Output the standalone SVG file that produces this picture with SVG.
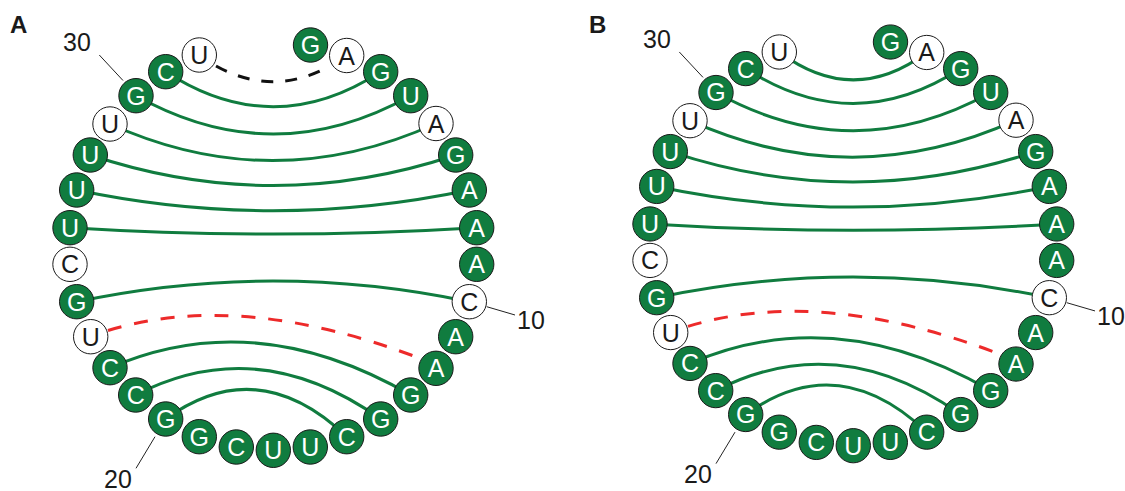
<svg xmlns="http://www.w3.org/2000/svg" width="1125" height="491" viewBox="0 0 1125 491">
<style>
  text{font-family:"Liberation Sans",Arial,sans-serif}
  .nd text{font-size:25px;text-anchor:middle}
  .g circle{fill:#107c3f;stroke:#1a1a1a;stroke-width:1}
  .g text{fill:#ffffff}
  .w circle{fill:#ffffff;stroke:#1a1a1a;stroke-width:1}
  .w text{fill:#1a1a1a}
  .pair{fill:none;stroke:#107c3f;stroke-width:3}
  .mis{fill:none;stroke:#ed2a2a;stroke-width:3;stroke-dasharray:14 13}
  .gap{fill:none;stroke:#111111;stroke-width:3;stroke-dasharray:12 12}
  .lead{stroke:#222222;stroke-width:1}
  .num{font-size:25px;fill:#1a1a1a}
  .panel{font-size:24px;font-weight:bold;fill:#1a1a1a}
</style>

<text class="panel" x="10" y="33">A</text>
<text class="panel" x="589" y="33">B</text>

<!-- Panel A -->
<g id="panel-a">
  <g id="a-connectors">
    <path class="gap" d="M216,66 Q273,97.4 330,66"/>
    <path class="pair" d="M165.7,71.7 Q273.2,141.7 380.7,71.7"/>
    <path class="pair" d="M136,95.7 Q273.3,172.3 410.7,95.7"/>
    <path class="pair" d="M110,124 Q273,197.4 436,123.5"/>
    <path class="pair" d="M90.3,155 Q273,216 455.7,155"/>
    <path class="pair" d="M76.7,190 Q273,231.4 469.3,190"/>
    <path class="pair" d="M70,227.7 Q273.3,240.3 476.7,227.7"/>
    <path class="pair" d="M76.7,301.7 Q273,260.3 469.3,301.7"/>
    <path class="mis" d="M108,330.5 Q240,290 419,358"/>
    <path class="pair" d="M110,367.7 Q255,305 410.7,395"/>
    <path class="pair" d="M135.7,395 Q258,332 380.7,419"/>
    <path class="pair" d="M165.7,419 Q258,352 346.7,436.7"/>
    <line class="lead" x1="99.3" y1="55" x2="123" y2="80.5"/>
    <line class="lead" x1="155" y1="436.7" x2="136" y2="468.3"/>
    <line class="lead" x1="486.7" y1="306.7" x2="515" y2="315"/>
  </g>
  <text class="num" x="63" y="51">30</text>
  <text class="num" x="104" y="488">20</text>
  <text class="num" x="517" y="329">10</text>
  <g id="a-nodes" class="nd">
    <g id="a-n1" class="g"><circle cx="310.5" cy="45" r="17.2"/><text x="310.5" y="54">G</text></g>
    <g id="a-n2" class="w"><circle cx="346.7" cy="55.5" r="17.2"/><text x="346.7" y="64.5">A</text></g>
    <g id="a-n3" class="g"><circle cx="380.7" cy="71.7" r="17.2"/><text x="380.7" y="80.7">G</text></g>
    <g id="a-n4" class="g"><circle cx="410.7" cy="95.7" r="17.2"/><text x="410.7" y="104.7">U</text></g>
    <g id="a-n5" class="w"><circle cx="436" cy="123.5" r="17.2"/><text x="436" y="132.5">A</text></g>
    <g id="a-n6" class="g"><circle cx="455.7" cy="155" r="17.2"/><text x="455.7" y="164">G</text></g>
    <g id="a-n7" class="g"><circle cx="469.3" cy="190" r="17.2"/><text x="469.3" y="199">A</text></g>
    <g id="a-n8" class="g"><circle cx="476.7" cy="227.7" r="17.2"/><text x="476.7" y="236.7">A</text></g>
    <g id="a-n9" class="g"><circle cx="476.7" cy="264.3" r="17.2"/><text x="476.7" y="273.3">A</text></g>
    <g id="a-n10" class="w"><circle cx="469.3" cy="301.7" r="17.2"/><text x="469.3" y="310.7">C</text></g>
    <g id="a-n11" class="g"><circle cx="455.7" cy="336.7" r="17.2"/><text x="455.7" y="345.7">A</text></g>
    <g id="a-n12" class="g"><circle cx="436" cy="368.3" r="17.2"/><text x="436" y="377.3">A</text></g>
    <g id="a-n13" class="g"><circle cx="410.7" cy="395" r="17.2"/><text x="410.7" y="404">G</text></g>
    <g id="a-n14" class="g"><circle cx="380.7" cy="419" r="17.2"/><text x="380.7" y="428">G</text></g>
    <g id="a-n15" class="g"><circle cx="346.7" cy="436.7" r="17.2"/><text x="346.7" y="445.7">C</text></g>
    <g id="a-n16" class="g"><circle cx="310.3" cy="447" r="17.2"/><text x="310.3" y="456">U</text></g>
    <g id="a-n17" class="g"><circle cx="273.3" cy="450.3" r="17.2"/><text x="273.3" y="459.3">U</text></g>
    <g id="a-n18" class="g"><circle cx="236.3" cy="447" r="17.2"/><text x="236.3" y="456">C</text></g>
    <g id="a-n19" class="g"><circle cx="199.3" cy="436.7" r="17.2"/><text x="199.3" y="445.7">G</text></g>
    <g id="a-n20" class="g"><circle cx="165.7" cy="419" r="17.2"/><text x="165.7" y="428">G</text></g>
    <g id="a-n21" class="g"><circle cx="135.7" cy="395" r="17.2"/><text x="135.7" y="404">C</text></g>
    <g id="a-n22" class="g"><circle cx="110" cy="367.7" r="17.2"/><text x="110" y="376.7">C</text></g>
    <g id="a-n23" class="w"><circle cx="90.7" cy="336.7" r="17.2"/><text x="90.7" y="345.7">U</text></g>
    <g id="a-n24" class="g"><circle cx="76.7" cy="301.7" r="17.2"/><text x="76.7" y="310.7">G</text></g>
    <g id="a-n25" class="w"><circle cx="70" cy="264.3" r="17.2"/><text x="70" y="273.3">C</text></g>
    <g id="a-n26" class="g"><circle cx="70" cy="227.7" r="17.2"/><text x="70" y="236.7">U</text></g>
    <g id="a-n27" class="g"><circle cx="76.7" cy="190" r="17.2"/><text x="76.7" y="199">U</text></g>
    <g id="a-n28" class="g"><circle cx="90.3" cy="155" r="17.2"/><text x="90.3" y="164">U</text></g>
    <g id="a-n29" class="w"><circle cx="110" cy="124" r="17.2"/><text x="110" y="133">U</text></g>
    <g id="a-n30" class="g"><circle cx="136" cy="95.7" r="17.2"/><text x="136" y="104.7">G</text></g>
    <g id="a-n31" class="g"><circle cx="165.7" cy="71.7" r="17.2"/><text x="165.7" y="80.7">C</text></g>
    <g id="a-n32" class="w"><circle cx="199.3" cy="55" r="17.2"/><text x="199.3" y="64">U</text></g>
  </g>
</g>

<!-- Panel B: same ring, U32-A2 closed by a solid pair -->
<g id="panel-b" transform="matrix(1 0 0 0.996 580 -2.8)">
  <g id="b-connectors">
    <path class="pair" d="M199.3,55 Q273,110.7 346.7,55.5"/>
    <path class="pair" d="M165.7,71.7 Q273.2,141.7 380.7,71.7"/>
    <path class="pair" d="M136,95.7 Q273.3,172.3 410.7,95.7"/>
    <path class="pair" d="M110,124 Q273,197.4 436,123.5"/>
    <path class="pair" d="M90.3,155 Q273,216 455.7,155"/>
    <path class="pair" d="M76.7,190 Q273,231.4 469.3,190"/>
    <path class="pair" d="M70,227.7 Q273.3,240.3 476.7,227.7"/>
    <path class="pair" d="M76.7,301.7 Q273,260.3 469.3,301.7"/>
    <path class="mis" d="M108,330.5 Q240,290 419,358"/>
    <path class="pair" d="M110,367.7 Q255,305 410.7,395"/>
    <path class="pair" d="M135.7,395 Q258,332 380.7,419"/>
    <path class="pair" d="M165.7,419 Q258,352 346.7,436.7"/>
    <line class="lead" x1="99.3" y1="55" x2="123" y2="80.5"/>
    <line class="lead" x1="155" y1="436.7" x2="136" y2="468.3"/>
    <line class="lead" x1="486.7" y1="306.7" x2="515" y2="315"/>
  </g>
  <text class="num" x="63" y="51">30</text>
  <text class="num" x="104" y="488">20</text>
  <text class="num" x="517" y="329">10</text>
  <g id="b-nodes" class="nd">
    <g id="b-n1" class="g"><circle cx="310.5" cy="45" r="17.2"/><text x="310.5" y="54">G</text></g>
    <g id="b-n2" class="w"><circle cx="346.7" cy="55.5" r="17.2"/><text x="346.7" y="64.5">A</text></g>
    <g id="b-n3" class="g"><circle cx="380.7" cy="71.7" r="17.2"/><text x="380.7" y="80.7">G</text></g>
    <g id="b-n4" class="g"><circle cx="410.7" cy="95.7" r="17.2"/><text x="410.7" y="104.7">U</text></g>
    <g id="b-n5" class="w"><circle cx="436" cy="123.5" r="17.2"/><text x="436" y="132.5">A</text></g>
    <g id="b-n6" class="g"><circle cx="455.7" cy="155" r="17.2"/><text x="455.7" y="164">G</text></g>
    <g id="b-n7" class="g"><circle cx="469.3" cy="190" r="17.2"/><text x="469.3" y="199">A</text></g>
    <g id="b-n8" class="g"><circle cx="476.7" cy="227.7" r="17.2"/><text x="476.7" y="236.7">A</text></g>
    <g id="b-n9" class="g"><circle cx="476.7" cy="264.3" r="17.2"/><text x="476.7" y="273.3">A</text></g>
    <g id="b-n10" class="w"><circle cx="469.3" cy="301.7" r="17.2"/><text x="469.3" y="310.7">C</text></g>
    <g id="b-n11" class="g"><circle cx="455.7" cy="336.7" r="17.2"/><text x="455.7" y="345.7">A</text></g>
    <g id="b-n12" class="g"><circle cx="436" cy="368.3" r="17.2"/><text x="436" y="377.3">A</text></g>
    <g id="b-n13" class="g"><circle cx="410.7" cy="395" r="17.2"/><text x="410.7" y="404">G</text></g>
    <g id="b-n14" class="g"><circle cx="380.7" cy="419" r="17.2"/><text x="380.7" y="428">G</text></g>
    <g id="b-n15" class="g"><circle cx="346.7" cy="436.7" r="17.2"/><text x="346.7" y="445.7">C</text></g>
    <g id="b-n16" class="g"><circle cx="310.3" cy="447" r="17.2"/><text x="310.3" y="456">U</text></g>
    <g id="b-n17" class="g"><circle cx="273.3" cy="450.3" r="17.2"/><text x="273.3" y="459.3">U</text></g>
    <g id="b-n18" class="g"><circle cx="236.3" cy="447" r="17.2"/><text x="236.3" y="456">C</text></g>
    <g id="b-n19" class="g"><circle cx="199.3" cy="436.7" r="17.2"/><text x="199.3" y="445.7">G</text></g>
    <g id="b-n20" class="g"><circle cx="165.7" cy="419" r="17.2"/><text x="165.7" y="428">G</text></g>
    <g id="b-n21" class="g"><circle cx="135.7" cy="395" r="17.2"/><text x="135.7" y="404">C</text></g>
    <g id="b-n22" class="g"><circle cx="110" cy="367.7" r="17.2"/><text x="110" y="376.7">C</text></g>
    <g id="b-n23" class="w"><circle cx="90.7" cy="336.7" r="17.2"/><text x="90.7" y="345.7">U</text></g>
    <g id="b-n24" class="g"><circle cx="76.7" cy="301.7" r="17.2"/><text x="76.7" y="310.7">G</text></g>
    <g id="b-n25" class="w"><circle cx="70" cy="264.3" r="17.2"/><text x="70" y="273.3">C</text></g>
    <g id="b-n26" class="g"><circle cx="70" cy="227.7" r="17.2"/><text x="70" y="236.7">U</text></g>
    <g id="b-n27" class="g"><circle cx="76.7" cy="190" r="17.2"/><text x="76.7" y="199">U</text></g>
    <g id="b-n28" class="g"><circle cx="90.3" cy="155" r="17.2"/><text x="90.3" y="164">U</text></g>
    <g id="b-n29" class="w"><circle cx="110" cy="124" r="17.2"/><text x="110" y="133">U</text></g>
    <g id="b-n30" class="g"><circle cx="136" cy="95.7" r="17.2"/><text x="136" y="104.7">G</text></g>
    <g id="b-n31" class="g"><circle cx="165.7" cy="71.7" r="17.2"/><text x="165.7" y="80.7">C</text></g>
    <g id="b-n32" class="w"><circle cx="199.3" cy="55" r="17.2"/><text x="199.3" y="64">U</text></g>
  </g>
</g>
</svg>
